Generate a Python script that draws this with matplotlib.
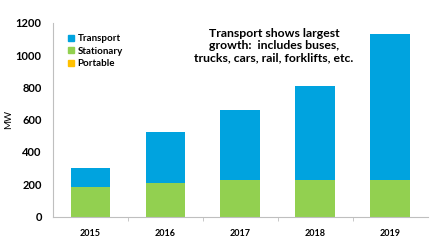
import numpy as np
import matplotlib
matplotlib.use("Agg")
import matplotlib.pyplot as plt
from matplotlib.patches import Patch

plt.rcParams['font.family'] = ['Lato', 'DejaVu Sans']

years = ['2015', '2016', '2017', '2018', '2019']
stationary = [185, 210, 225, 225, 225]
transport = [115, 310, 435, 580, 905]
portable = [1, 1, 1, 1, 1]

cTrans = '#00A3DF'
cStat = '#92D050'
cPort = '#FFC000'

fig = plt.figure(figsize=(4.30, 2.47), dpi=100)
ax = fig.add_axes([0.123, 0.123, 0.872, 0.785])
x = np.arange(len(years))
w = 0.53
stat = np.array(stationary)
port = np.array(portable)
ax.bar(x, stationary, w, color=cStat, zorder=2)
ax.bar(x, portable, w, bottom=stat, color=cPort, zorder=2)
ax.bar(x, transport, w, bottom=stat+port, color=cTrans, zorder=2)

ax.set_xlim(-0.5, 4.5)
ax.set_ylim(0, 1200)
ax.set_yticks(np.arange(0, 1201, 200))
ax.set_xticks(x)
ax.set_xticklabels(years, fontsize=6.5, fontweight='bold')
ax.set_xticks(np.arange(0.5, 4.5, 1), minor=True)
ax.tick_params(axis='x', which='major', length=0, pad=9)
ax.tick_params(axis='x', which='minor', length=3, color='#bfbfbf')
ax.tick_params(axis='y', length=0, pad=8, labelsize=8)
for lab in ax.get_yticklabels():
  lab.set_fontweight('bold')
for s in ['top', 'right']:
  ax.spines[s].set_visible(False)
ax.spines['left'].set_color('#bfbfbf')
ax.spines['bottom'].set_color('#bfbfbf')
ax.set_ylabel('MW', fontsize=7)
ax.yaxis.set_label_coords(-0.105, 0.5)

handles = [Patch(color=cTrans, label='Transport'), Patch(color=cStat, label='Stationary'),
  Patch(color=cPort, label='Portable')]
ax.legend(handles=handles, loc='upper left', bbox_to_anchor=(0.03, 0.96), frameon=False,
  prop={'weight': 'bold', 'size': 7}, handlelength=0.6, handleheight=0.6,
  handletextpad=0.4, labelspacing=0.35, borderaxespad=0)

ax.text(0.59, 0.975, 'Transport shows largest\ngrowth:  includes buses,\ntrucks, cars, rail, forklifts, etc.',
  transform=ax.transAxes, ha='center', va='top', fontsize=8.8, fontweight='bold',
  linespacing=1.15)

fig.savefig('out.png', dpi=100)
